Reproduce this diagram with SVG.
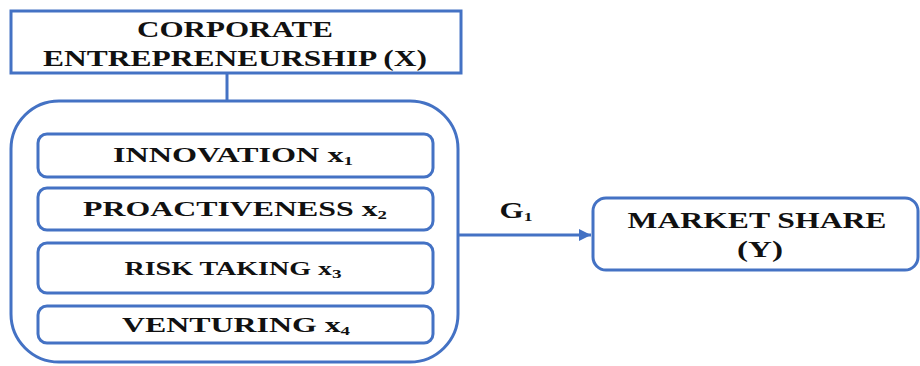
<svg xmlns="http://www.w3.org/2000/svg" width="920" height="366" viewBox="0 0 920 366">
<defs>
<style>
.box{fill:#fff;stroke:#4472C4;stroke-width:3}
.t{font-family:"Liberation Serif","Times New Roman",serif;font-weight:bold;fill:#111;text-anchor:middle}
.sub{font-size:13px}
.conn{stroke:#4472C4;stroke-width:3;fill:none}
</style>
<marker id="ah" viewBox="0 0 10 10" refX="10" refY="5" markerWidth="4" markerHeight="4" orient="auto" markerUnits="strokeWidth">
<path d="M0,0 L10,5 L0,10 z" fill="#4472C4"/>
</marker>
</defs>
<g id="connectors">
<line class="conn" x1="227" y1="74" x2="227" y2="101"/>
<line class="conn" x1="458" y1="235" x2="591" y2="235" marker-end="url(#ah)"/>
<text class="t" x="516" y="218" font-size="23" textLength="33" lengthAdjust="spacingAndGlyphs">G<tspan class="sub" dy="3">1</tspan></text>
</g>
<g id="corporate">
<rect class="box" x="11" y="11" width="450" height="62"/>
<text class="t" x="235" y="37" font-size="24" textLength="196" lengthAdjust="spacingAndGlyphs">CORPORATE</text>
<text class="t" x="235" y="66" font-size="24" textLength="384" lengthAdjust="spacingAndGlyphs">ENTREPRENEURSHIP (X)</text>
</g>
<g id="dimensions">
<rect class="box" x="11" y="101" width="447" height="261" rx="48" ry="48"/>
</g>
<g id="innovation">
<rect class="box" x="38" y="134" width="395" height="43" rx="9"/>
<text class="t" x="233" y="162" font-size="22" textLength="240" lengthAdjust="spacingAndGlyphs">INNOVATION x<tspan class="sub" dy="3">1</tspan></text>
</g>
<g id="proactiveness">
<rect class="box" x="38" y="188" width="395" height="42" rx="9"/>
<text class="t" x="235" y="216" font-size="22" textLength="304" lengthAdjust="spacingAndGlyphs">PROACTIVENESS x<tspan class="sub" dy="3">2</tspan></text>
</g>
<g id="risk">
<rect class="box" x="38" y="243" width="395" height="50" rx="9"/>
<text class="t" x="233" y="275" font-size="19" textLength="217" lengthAdjust="spacingAndGlyphs">RISK TAKING x<tspan class="sub" dy="3">3</tspan></text>
</g>
<g id="venturing">
<rect class="box" x="38" y="306" width="395" height="37" rx="9"/>
<text class="t" x="236" y="332" font-size="22" textLength="228" lengthAdjust="spacingAndGlyphs">VENTURING x<tspan class="sub" dy="3">4</tspan></text>
</g>
<g id="market">
<rect class="box" x="593" y="198" width="325" height="72" rx="13"/>
<text class="t" x="757" y="228" font-size="23" textLength="259" lengthAdjust="spacingAndGlyphs">MARKET SHARE</text>
<text class="t" x="760" y="257" font-size="23" textLength="46" lengthAdjust="spacingAndGlyphs">(Y)</text>
</g>
</svg>
